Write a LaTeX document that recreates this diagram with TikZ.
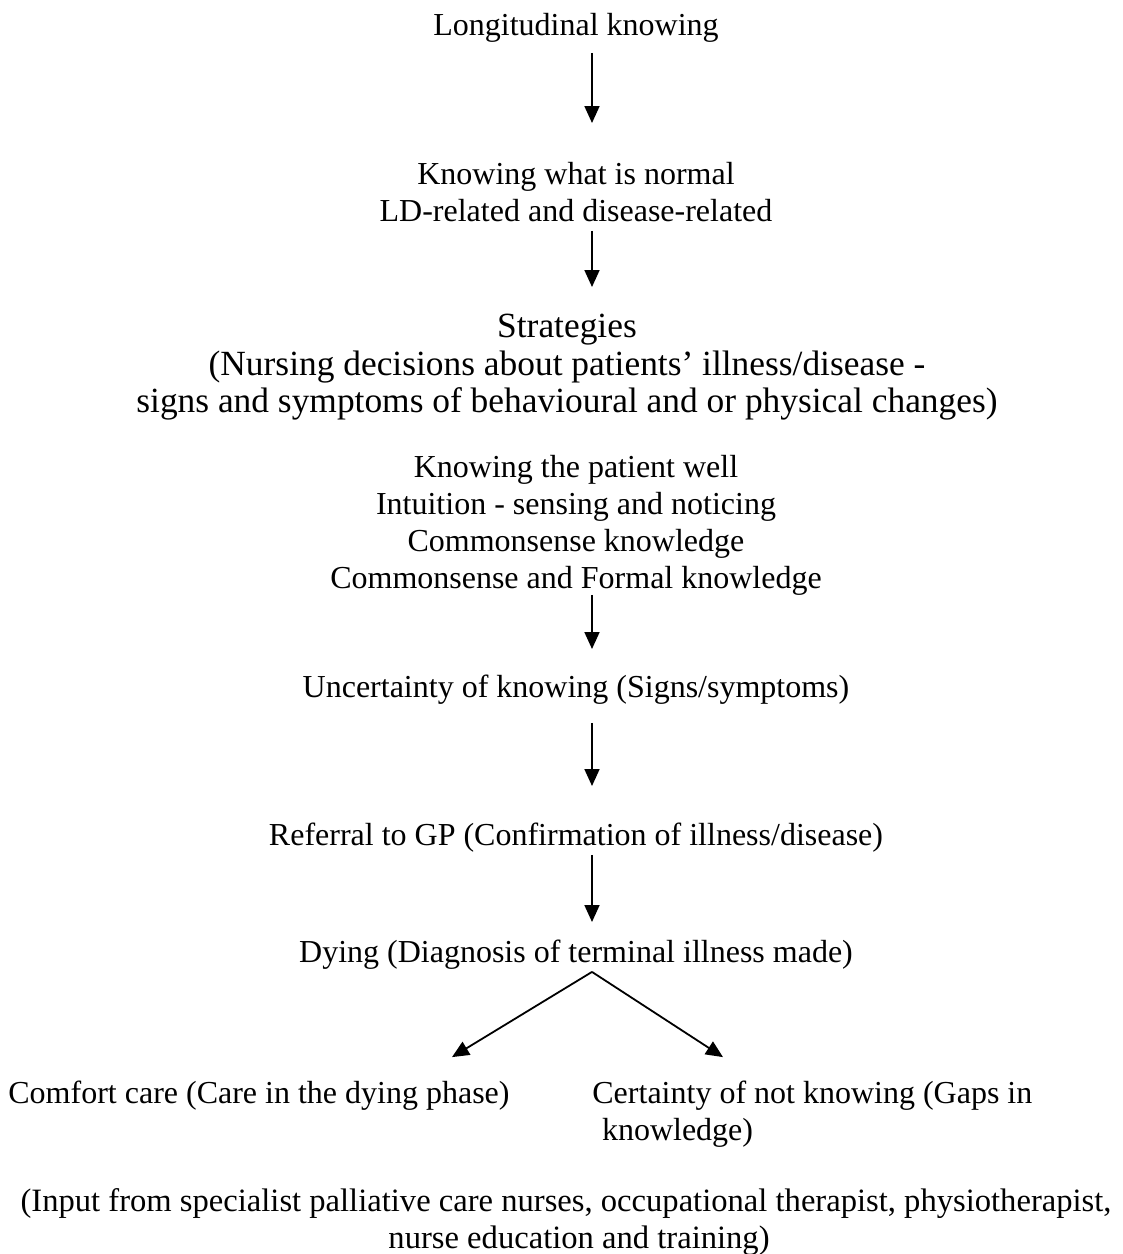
\documentclass[tikz,border=0pt]{standalone}
\usepackage{fontspec}
\setmainfont{Liberation Serif}
\usetikzlibrary{arrows.meta,calc}
\tikzset{
  txt/.style={font=\fontsize{16}{18.5}\selectfont, align=center, inner sep=0pt, anchor=north},
  txtbig/.style={txt, font=\fontsize{17.7}{18.8}\selectfont},
  txtl/.style={font=\fontsize{16}{18.5}\selectfont, align=left, inner sep=0pt, anchor=north west},
  arr/.style={line width=0.9pt, -{Triangle[width=7.5pt,length=8.5pt]}}
}
\begin{document}
\begin{tikzpicture}[x=0.5pt,y=-0.5pt]
\useasboundingbox (0,0) rectangle (1123,1254);
\coordinate (ax) at (592,0);
\node[txt] (n1) at (576,9.1) {\strut Longitudinal knowing};
\node[txt] (n2) at (576,158.1) {\strut Knowing what is normal\\\strut LD-related and disease-related};
\node[txtbig] (n3) at (567,310.7) {\strut Strategies\\\strut (Nursing decisions about patients’ illness/disease -\\\strut signs and symptoms of behavioural and or physical changes)};
\node[txt] (n4) at (576,451.1) {\strut Knowing the patient well\\\strut Intuition - sensing and noticing\\\strut Commonsense knowledge\\\strut Commonsense and Formal knowledge};
\node[txt] (n5) at (576,671.1) {\strut Uncertainty of knowing (Signs/symptoms)};
\node[txt] (n6) at (576,819.1) {\strut Referral to GP (Confirmation of illness/disease)};
\node[txt] (n7) at (576,936.1) {\strut Dying (Diagnosis of terminal illness made)};
\node[txtl] (n8) at (8,1077.1) {\strut Comfort care (Care in the dying phase)};
\node[txtl] (n9) at (592,1077.1) {\strut Certainty of not knowing (Gaps in\\\strut\hspace*{0.3em}knowledge)};
\node[txt, font=\fontsize{16.3}{18.5}\selectfont] (n10) at (566,1185.1) {\strut (Input from specialist palliative care nurses, occupational therapist, physiotherapist,\\\strut\hspace*{0.8em}nurse education and training)};
\draw[arr] ($(n1.south -| ax)+(0,5.9)$) -- ($(n2.north -| ax)+(0,-35.1)$);
\draw[arr] ($(n2.south -| ax)+(0,-2.1)$) -- ($(n3.north -| ax)+(0,-23.7)$);
\draw[arr] ($(n4.south -| ax)+(0,-5.1)$) -- ($(n5.north -| ax)+(0,-22.1)$);
\draw[arr] ($(n5.south -| ax)+(0,13.9)$) -- ($(n6.north -| ax)+(0,-33.1)$);
\draw[arr] ($(n6.south -| ax)+(0,-2.1)$) -- ($(n7.north -| ax)+(0,-14.1)$);
\coordinate (apex) at ($(n7.south -| ax)+(0,-2)$);
\draw[arr] (apex) -- ($(n8.north west)+(444,-20)$);
\draw[arr] (apex) -- ($(n9.north west)+(131,-20)$);
\end{tikzpicture}
\end{document}
